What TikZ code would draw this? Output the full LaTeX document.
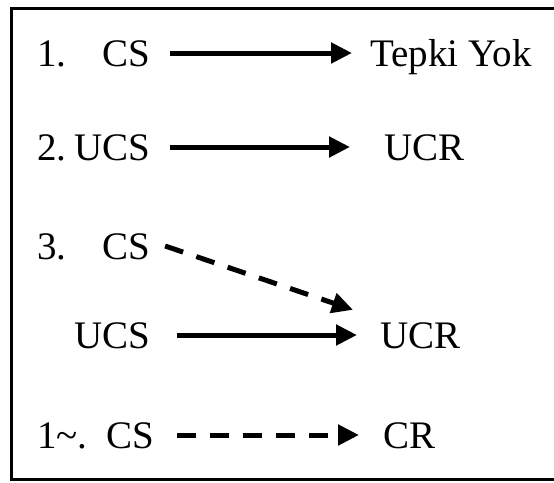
\documentclass[tikz,border=0pt]{standalone}
\usepackage{fontspec}
\setmainfont{Liberation Serif}
\usetikzlibrary{arrows.meta}
\begin{document}
\begin{tikzpicture}[x=1pt,y=-1pt,
  lbl/.style={anchor=base west,inner sep=0pt,text height=26pt,text depth=0pt,font=\fontsize{39}{41}\selectfont},
  arr/.style={line width=5pt,-{Triangle[length=21pt,width=20pt]}},
  darr/.style={arr,dash pattern=on 19pt off 14pt}]
\useasboundingbox (0,0) rectangle (554,482);
\clip (0,0) rectangle (554,482);
\draw[line width=3pt] (11,8) rectangle (580,479);
% row 1
\node[lbl] (n1) at (37,66) {1.};
\node[lbl] (cs1) at (102,66) {CS};
\node[lbl] (tk) at (370,66) {Tepki Yok};
\draw[arr] ([xshift=20pt]cs1.east) -- ([xshift=-18pt]tk.west);
% row 2
\node[lbl] (n2) at (37,160) {2.};
\node[lbl] (ucs2) at (74,160) {UCS};
\node[lbl] (ucr2) at (384,160) {UCR};
\draw[arr] ([xshift=20pt]ucs2.east) -- ([xshift=-34pt]ucr2.west);
% row 3
\node[lbl] (n3) at (37,259) {3.};
\node[lbl] (cs3) at (102,259) {CS};
% row 4
\node[lbl] (ucs4) at (74,348) {UCS};
\node[lbl] (ucr4) at (380,348) {UCR};
\draw[arr] ([xshift=27pt]ucs4.east) -- ([xshift=-23pt]ucr4.west);
\draw[darr] ([xshift=15pt]cs3.east) -- ([xshift=-27pt,yshift=12pt]ucr4.north west);
% row 5
\node[lbl] (n5) at (37,448) {1\textasciitilde.};
\node[lbl] (cs5) at (106,448) {CS};
\node[lbl] (cr5) at (383,448) {CR};
\draw[darr] ([xshift=23pt]cs5.east) -- ([xshift=-24pt]cr5.west);
\end{tikzpicture}
\end{document}
